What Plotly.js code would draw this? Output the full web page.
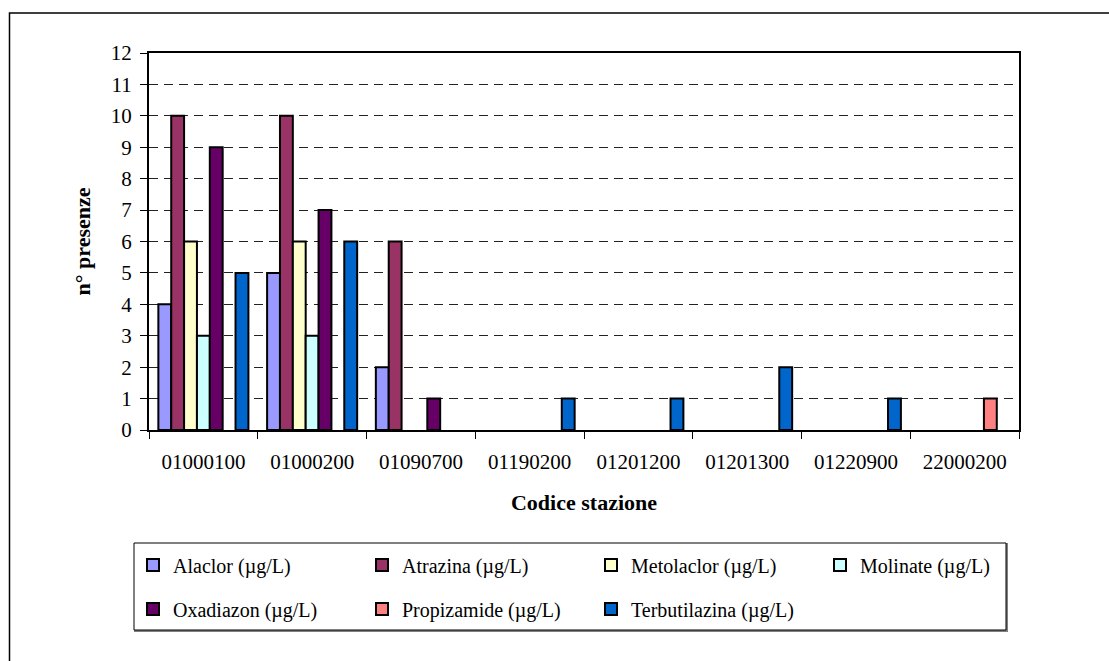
<!DOCTYPE html>
<html>
<head>
<meta charset="utf-8">
<script src="https://cdn.plot.ly/plotly-3.0.1.min.js"></script>
<style>html,body{margin:0;padding:0;background:#fff;}#chart{width:1109px;height:661px;}</style>
</head>
<body>
<div id="chart"></div>
<script>
const categories = ['01000100','01000200','01090700','01190200','01201200','01201300','01220900','22000200'];
const seriesNames = ['Alaclor (µg/L)','Atrazina (µg/L)','Metolaclor (µg/L)','Molinate (µg/L)','Oxadiazon (µg/L)','Propizamide (µg/L)','Terbutilazina (µg/L)'];
const alaclor       = [4, 5, 2, 0, 0, 0, 0, 0];
const atrazina      = [10, 10, 6, 0, 0, 0, 0, 0];
const metolaclor    = [6, 6, 0, 0, 0, 0, 0, 0];
const molinate      = [3, 3, 0, 0, 0, 0, 0, 0];
const oxadiazon     = [9, 7, 1, 0, 0, 0, 0, 0];
const propizamide   = [0, 0, 0, 0, 0, 0, 0, 1];
const terbutilazina = [5, 6, 0, 1, 1, 2, 1, 0];
const yTickVals = [0,1,2,3,4,5,6,7,8,9,10,11,12];

const seriesValues = [alaclor, atrazina, metolaclor, molinate, oxadiazon, propizamide, terbutilazina];
const colors = ['#9999FF','#993366','#FFFFCC','#CCFFFF','#660066','#FF8080','#0066CC'];
// row 1: first four series, row 2: last three
const legendAssign = ['legend','legend','legend','legend','legend2','legend2','legend2'];
const legendW = [184, 184, 184, 132, 184, 184, 170];

const FONT = 'Liberation Serif, Times New Roman, serif';

const traces = seriesNames.map((name, i) => ({
  type: 'bar',
  name: name,
  x: categories,
  // a zero count draws no bar (as in the source chart)
  y: seriesValues[i].map(v => v === 0 ? null : v),
  marker: {color: colors[i], line: {color: '#000', width: 2}},
  legend: legendAssign[i],
  legendwidth: legendW[i],
  hoverinfo: 'x+y+name'
}));

// pixel helpers to paper coords (plot area: x 149..1019, y 53..430)
const L = 149, R = 1019, T = 53, B = 430;
const px = v => (v - L) / (R - L);
const py = v => (B - v) / (B - T);

const layout = {
  width: 1109, height: 661,
  margin: {l: L, r: 1109 - R, t: T, b: 661 - B, pad: 0},
  paper_bgcolor: '#fff', plot_bgcolor: '#fff',
  font: {family: FONT, color: '#000', size: 20},
  barmode: 'group', bargap: 0.172, bargroupgap: 0,
  showlegend: true,
  xaxis: {
    type: 'category',
    tickson: 'boundaries',
    ticks: 'outside', ticklen: 7, tickwidth: 1, tickcolor: '#000',
    showline: true, linecolor: '#000', linewidth: 2, mirror: true,
    showgrid: false, zeroline: false,
    tickfont: {family: FONT, size: 21, color: '#000'},
    ticklabelstandoff: 12,
    title: {text: 'Codice stazione', font: {family: FONT, size: 22, color: '#000', weight: 'bold'}, standoff: 21}
  },
  yaxis: {
    range: [0, 12], tickvals: yTickVals, ticktext: yTickVals.map(String),
    ticks: 'outside', ticklen: 7, tickwidth: 1, tickcolor: '#000',
    showline: true, linecolor: '#000', linewidth: 2, mirror: true,
    showgrid: true, gridcolor: '#222', gridwidth: 1, griddash: '9px,6px',
    zeroline: false,
    tickfont: {family: FONT, size: 21, color: '#000'},
    ticklabelstandoff: 4,
    title: {text: 'n° presenze', font: {family: FONT, size: 22, color: '#000', weight: 'bold'}, standoff: 14}
  },
  legend: {
    orientation: 'h', xref: 'container', yref: 'container',
    x: 133 / 1109, xanchor: 'left', y: 1 - 565 / 661, yanchor: 'middle',
    font: {family: FONT, size: 20, color: '#000'},
    itemwidth: 30, bgcolor: 'rgba(0,0,0,0)', borderwidth: 0, traceorder: 'normal'
  },
  legend2: {
    orientation: 'h', xref: 'container', yref: 'container',
    x: 133 / 1109, xanchor: 'left', y: 1 - 609 / 661, yanchor: 'middle',
    font: {family: FONT, size: 20, color: '#000'},
    itemwidth: 30, bgcolor: 'rgba(0,0,0,0)', borderwidth: 0, traceorder: 'normal'
  },
  shapes: [
    // outer chart frame (top & left visible, extends past image)
    {type: 'rect', xref: 'paper', yref: 'paper', x0: px(9.5), x1: px(1130), y0: py(680), y1: py(13),
     line: {color: '#000', width: 1.5}, fillcolor: 'rgba(0,0,0,0)', layer: 'below'},
    // legend box shadow (right & bottom)
    {type: 'path', xref: 'paper', yref: 'paper',
     path: `M ${px(1007)} ${py(543)} L ${px(1007)} ${py(631)} L ${px(134)} ${py(631)}`,
     line: {color: '#808080', width: 2}},
    // legend box
    {type: 'rect', xref: 'paper', yref: 'paper', x0: px(134), x1: px(1006), y0: py(630), y1: py(543),
     line: {color: '#000', width: 1}, fillcolor: 'rgba(0,0,0,0)'}
  ]
};

Plotly.newPlot('chart', traces, layout, {displayModeBar: false, staticPlot: true});
</script>
</body>
</html>
